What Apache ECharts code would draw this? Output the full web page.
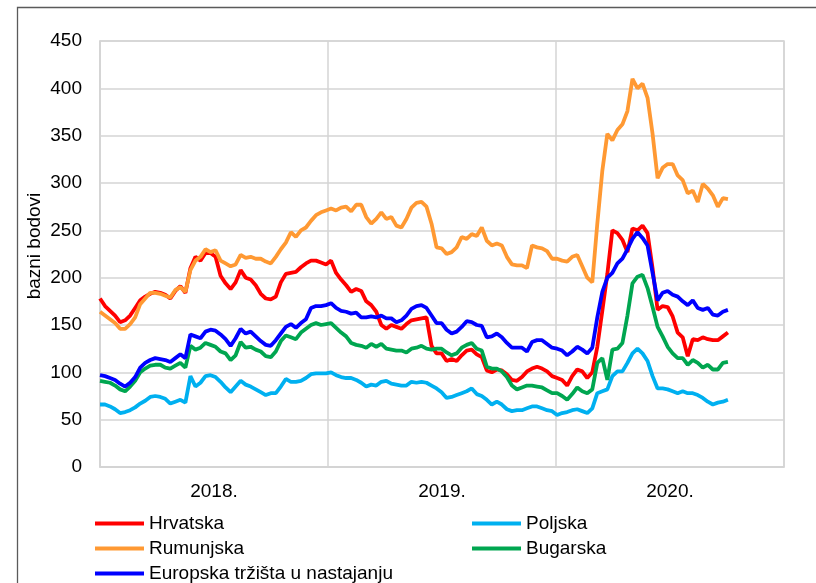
<!DOCTYPE html>
<html>
<head>
<meta charset="utf-8">
<script src="https://cdn.jsdelivr.net/npm/echarts@6/dist/echarts.min.js"></script>
<style>
  html, body { margin: 0; padding: 0; background: #fff; }
  #chart { width: 816px; height: 583px; }
</style>
</head>
<body>
<div id="chart"></div>
<script>
// godine na osi x
var years = ['2018.', '2019.', '2020.'];
// vrijeme izmedju dvije tocke (u godinama), prva tocka je pocetak 2018.
var step = 2.754 / 125;

// bazni bodovi, procitano s grafa
var hrvatska = [178,170,165,160,153,155,160,168,176,180,
  183,185,184,182,178,186,191,184,210,222,
  218,226,226,222,202,194,188,195,208,200,
  198,192,183,178,177,180,195,204,205,206,
  211,215,218,218,216,214,218,205,198,192,
  185,188,186,175,171,164,150,146,150,148,
  146,151,155,156,157,158,128,120,120,112,
  114,112,118,123,124,119,116,102,100,103,
  102,98,92,91,95,101,104,106,104,101,
  96,94,92,86,96,103,101,94,100,127,
  165,204,250,247,240,227,252,250,255,247,
  210,166,170,169,159,142,137,117,135,134,
  137,135,134,134,138,142];

var poljska = [66,66,64,61,57,58,60,63,67,70,
  74,75,74,72,67,69,71,68,96,85,
  89,96,97,95,90,84,79,85,91,87,
  85,82,79,76,78,78,85,93,90,90,
  91,94,98,99,99,99,100,97,95,94,
  94,92,89,85,87,86,90,91,88,87,
  86,86,90,89,90,89,86,83,79,73,
  74,76,78,80,83,77,75,71,66,69,
  66,61,59,60,60,62,64,64,62,60,
  59,55,57,58,60,61,59,57,62,78,
  80,82,96,101,101,110,120,125,120,112,
  96,83,83,82,80,78,80,78,78,76,
  73,69,66,68,69,71];

var rumunjska = [164,160,156,152,146,146,151,158,172,178,
  184,184,183,181,179,187,190,185,208,218,
  222,230,227,229,218,215,212,214,224,221,
  222,220,220,217,215,222,230,237,248,243,
  250,253,260,266,269,271,273,271,274,275,
  270,277,277,264,257,262,269,262,264,255,
  253,262,274,279,280,275,257,232,231,225,
  227,232,243,241,246,244,253,239,234,236,
  234,222,214,213,213,210,234,232,231,228,
  220,220,218,217,222,224,212,200,195,257,
  313,352,345,356,362,376,410,400,405,390,
  352,305,316,320,320,308,303,289,292,280,
  299,294,287,275,284,283];

var bugarska = [91,90,89,86,82,80,85,91,100,104,
  107,108,108,105,104,107,110,105,128,124,
  126,131,129,127,122,120,113,118,132,126,
  127,124,122,117,116,122,133,139,137,135,
  142,146,150,152,150,151,152,147,142,138,
  131,129,128,126,130,127,130,125,124,123,
  123,121,125,126,128,125,124,125,125,121,
  118,120,126,129,131,125,123,106,104,104,
  101,95,86,82,84,86,86,85,84,81,
  78,78,75,71,77,84,80,78,82,110,
  115,92,124,125,131,160,194,201,203,189,
  169,148,138,127,120,115,115,108,113,110,
  105,108,103,103,110,111];

var europska = [97,96,94,92,88,85,89,95,105,110,
  113,115,114,113,111,115,119,115,140,138,
  136,143,145,144,140,135,128,136,146,141,
  143,138,133,129,128,134,141,148,151,147,
  152,156,168,170,170,171,173,168,165,164,
  162,163,158,158,159,158,160,157,157,153,
  155,160,167,170,171,168,160,152,152,145,
  141,143,148,154,153,150,149,137,138,141,
  137,131,126,126,126,122,132,134,134,130,
  126,125,123,118,122,127,124,120,126,158,
  185,200,205,215,220,230,241,248,242,234,
  205,176,184,186,182,180,175,171,176,168,
  166,168,161,160,164,166];

function toPoints(arr) {
    var out = [];
    for (var i = 0; i < arr.length; i++) {
        out.push([i * step, arr[i]]);
    }
    return out;
}

function makeSeries(name, arr, color) {
    return {
        name: name,
        type: 'line',
        xAxisIndex: 1,
        data: toPoints(arr),
        symbol: 'none',
        smooth: false,
        lineStyle: { color: color, width: 3.8 },
        itemStyle: { color: color },
        emphasis: { disabled: true }
    };
}

var font = 'Liberation Sans, Arial, sans-serif';
var gridColor = '#d4d4d4';

function makeLegend(names, left) {
    return {
        data: names,
        orient: 'vertical',
        left: left,
        top: 514,
        height: 80,
        padding: 0,
        icon: 'rect',
        itemWidth: 49,
        itemHeight: 4,
        itemGap: 6,
        selectedMode: false,
        textStyle: { fontSize: 19, color: '#000', lineHeight: 19, fontFamily: font }
    };
}

var chart = echarts.init(document.getElementById('chart'));

var option = {
    animation: false,
    textStyle: { fontFamily: font },
    graphic: [
        {
            type: 'rect',
            shape: { x: 17.5, y: 7.5, width: 900, height: 700 },
            style: { fill: 'none', stroke: '#5a5a5a', lineWidth: 1.3 },
            silent: true
        },
        {
            type: 'text',
            x: 35,
            y: 246,
            rotation: Math.PI / 2,
            style: {
                text: 'bazni bodovi',
                font: '19px ' + font,
                fill: '#000',
                align: 'center',
                verticalAlign: 'middle'
            }
        }
    ],
    grid: {
        left: 100,
        right: 32,
        top: 41,
        bottom: 116,
        show: true,
        borderColor: gridColor,
        borderWidth: 1.5
    },
    legend: [
        makeLegend(['Hrvatska', 'Rumunjska', 'Europska tržišta u nastajanju'], 95),
        makeLegend(['Poljska', 'Bugarska'], 472)
    ],
    xAxis: [
        {
            type: 'category',
            data: years,
            boundaryGap: true,
            axisLine: { show: true, lineStyle: { color: gridColor, width: 1.5 } },
            axisTick: { show: false },
            axisLabel: { fontSize: 19, color: '#000', margin: 15 },
            splitLine: { show: true, lineStyle: { color: gridColor, width: 1.5 } }
        },
        {
            type: 'value',
            min: 0,
            max: 3,
            show: false,
            splitLine: { show: false }
        }
    ],
    yAxis: {
        type: 'value',
        min: 0,
        max: 450,
        interval: 50,
        axisLine: { show: true, lineStyle: { color: gridColor, width: 1.5 } },
        axisTick: { show: false },
        axisLabel: { fontSize: 19, color: '#000', margin: 18 },
        splitLine: { lineStyle: { color: gridColor, width: 1.5 } }
    },
    series: [
        makeSeries('Hrvatska', hrvatska, '#ff0000'),
        makeSeries('Poljska', poljska, '#00b0f0'),
        makeSeries('Rumunjska', rumunjska, '#ff9933'),
        makeSeries('Bugarska', bugarska, '#00a650'),
        makeSeries('Europska tržišta u nastajanju', europska, '#0000ff')
    ]
};

chart.setOption(option);
</script>
</body>
</html>
